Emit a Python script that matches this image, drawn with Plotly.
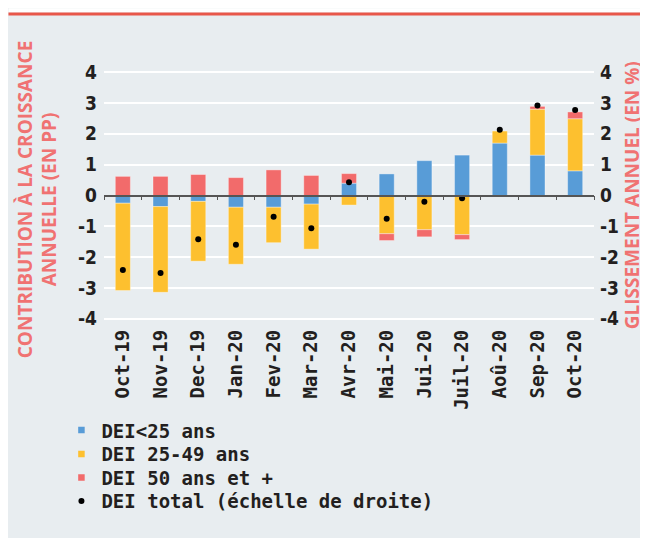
import plotly.graph_objects as go

# ---------------- data ----------------
months = ["Oct-19", "Nov-19", "Dec-19", "Jan-20", "Fev-20", "Mar-20", "Avr-20",
          "Mai-20", "Jui-20", "Juil-20", "Aoû-20", "Sep-20", "Oct-20"]
dei_moins25 = [-0.25, -0.36, -0.19, -0.38, -0.38, -0.28, 0.40, 0.70, 1.13, 1.31, 1.70, 1.31, 0.80]
dei_25_49 = [-2.83, -2.78, -1.94, -1.85, -1.15, -1.46, -0.31, -1.24, -1.11, -1.27, 0.39, 1.49, 1.69]
dei_50plus = [0.62, 0.62, 0.68, 0.58, 0.83, 0.65, 0.31, -0.22, -0.23, -0.16, -0.02, 0.09, 0.22]
dei_total = [-2.42, -2.51, -1.42, -1.60, -0.69, -1.06, 0.43, -0.75, -0.20, -0.09, 2.13, 2.92, 2.77]

tick_vals = [-4, -3, -2, -1, 0, 1, 2, 3, 4]
tick_text = ["-4", "-3", "-2", "-1", "0", "1", "2", "3", "4"]

names = ["DEI<25 ans", "DEI 25-49 ans", "DEI 50 ans et +", "DEI total (échelle de droite)"]
colors = ["#589cd7", "#fdc02f", "#f26b6b"]
left_title = "CONTRIBUTION À LA CROISSANCE<br>ANNUELLE (EN PP)"
right_title = "GLISSEMENT ANNUEL (EN %)"

# ---------------- layout constants (page pixels, figure sits at 8,8) ----------------
OFF = 8
W, H = 640, 530
PLOT_L, PLOT_R, PLOT_T, PLOT_B = 103.6, 594.0, 65.9, 325.5
ML = PLOT_L - OFF
MR = W - (PLOT_R - OFF)
MT = PLOT_T - OFF
MB = H - (PLOT_B - OFF)
PW, PH = PLOT_R - PLOT_L, PLOT_B - PLOT_T


def px_x(px):
    return (px - PLOT_L) / PW


def px_y(py):
    return (PLOT_B - py) / PH


PANEL = "#e8edf0"
TXT = "#231f20"
TITLE_RED = "#f07272"
MONO = "DejaVu Sans Mono"
COND = "DejaVu Sans Condensed, Liberation Sans Narrow, DejaVu Sans"
legend_rows = [431, 455, 478.5, 502]
legend_ids = ["legend", "legend2", "legend3", "legend4"]

fig = go.Figure()

for i, (vals, name, col) in enumerate(zip([dei_moins25, dei_25_49, dei_50plus], names[:3], colors)):
    fig.add_trace(go.Bar(x=months, y=vals, name=name, marker_color=col,
                         marker_line_width=0.8, marker_line_color="rgba(255,255,255,0.45)",
                         width=0.4, showlegend=False, legendgroup=name))
    fig.add_trace(go.Scatter(x=[None], y=[None], mode="markers", name=name,
                             marker=dict(symbol="square", size=6.5, color=col),
                             legendgroup=name, showlegend=True, legend=legend_ids[i]))

fig.add_trace(go.Scatter(x=months, y=dei_total, mode="markers", name=names[3],
                         marker=dict(size=6, color="#000000"),
                         xaxis="x2", yaxis="y2", legend=legend_ids[3]))

yrange = [-4.2, 4.2]
tickfont = dict(family=COND, size=19, color=TXT, weight="bold")
legfont = dict(family=MONO, size=19, color=TXT, weight="bold")
titlefont = dict(family="Open Sans", size=19, color=TITLE_RED, weight="bold")

legends = {}
for lid, row in zip(legend_ids, legend_rows):
    legends[lid] = dict(x=px_x(61), y=px_y(row), xanchor="left", yanchor="middle",
                        bgcolor="rgba(0,0,0,0)", font=legfont, itemsizing="trace")

fig.update_layout(
    width=W, height=H,
    margin=dict(l=ML, r=MR, t=MT, b=MB, pad=0, autoexpand=False),
    paper_bgcolor=PANEL, plot_bgcolor=PANEL,
    barmode="relative",
    showlegend=True,
    **legends,
    xaxis=dict(type="category", categoryorder="array", categoryarray=months,
               range=[-0.5, 12.5], tickangle=-90, showgrid=False, showline=False,
               automargin=False,
               ticks="", tickfont=dict(family=MONO, size=19, color=TXT, weight="bold")),
    xaxis2=dict(type="category", categoryorder="array", categoryarray=months,
                range=[-0.5, 12.5], overlaying="x", anchor="free", position=0.5,
                showline=True, linecolor="#555555", linewidth=1.5, automargin=False,
                ticks="outside", tickson="boundaries", ticklen=4, tickcolor="#555555",
                tickwidth=1.2, showticklabels=False, showgrid=False),
    yaxis=dict(range=yrange, tickvals=tick_vals, ticktext=tick_text,
               showgrid=True, gridcolor="#ffffff", gridwidth=1.5, automargin=False,
               zeroline=False, showline=False, ticks="", tickfont=tickfont,
               ticklabelstandoff=6),
    yaxis2=dict(range=yrange, tickvals=tick_vals, ticktext=tick_text,
                overlaying="y", side="right", anchor="x2", automargin=False,
                showgrid=False, zeroline=False, showline=False, ticks="", tickfont=tickfont,
                ticklabelstandoff=5),
    annotations=[
        dict(text=left_title, xref="paper", yref="paper", x=px_x(37), y=px_y(199),
             xanchor="center", yanchor="middle", textangle=-90, showarrow=False,
             font=titlefont, align="center"),
        dict(text=right_title, xref="paper", yref="paper", x=px_x(631.5), y=px_y(195),
             xanchor="center", yanchor="middle", textangle=-90, showarrow=False,
             font=titlefont, align="center"),
    ],
    shapes=[
        dict(type="rect", xref="paper", yref="paper", x0=px_x(OFF), x1=px_x(OFF + W),
             y0=px_y(12.3), y1=px_y(OFF), fillcolor="#ffffff", line_width=0, layer="below"),
        dict(type="line", xref="paper", yref="paper", x0=px_x(OFF), x1=px_x(OFF + W),
             y0=px_y(13.8), y1=px_y(13.8), line=dict(color="#e8574a", width=3)),
    ],
)

fig.write_html("out.html")
